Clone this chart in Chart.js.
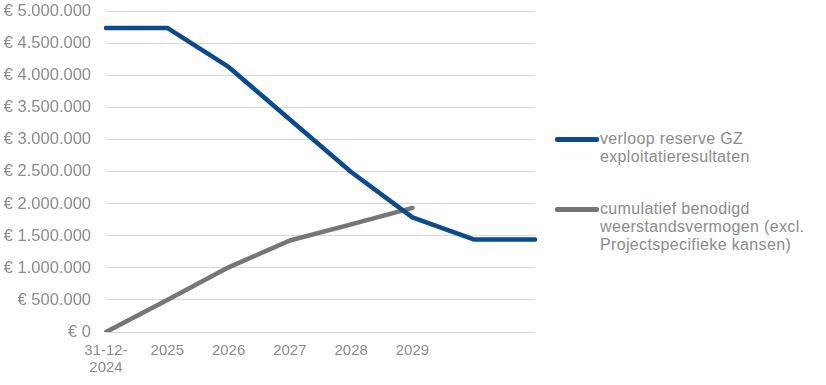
<!DOCTYPE html>
<html>
<head>
<meta charset="utf-8">
<script src="https://cdn.jsdelivr.net/npm/chart.js@4/dist/chart.umd.min.js"></script>
<style>
  body { margin: 0; background: #fff; font-family: "Liberation Sans", Arial, sans-serif; overflow: hidden; }
  #wrap { position: relative; width: 826px; height: 385px; overflow: hidden; }
  #chartBox { position: absolute; left: 0; top: -13px; width: 537px; height: 398px; }
  .legend { position: absolute; left: 555px; color: #8c8c8c; font-size: 16px; line-height: 18px; letter-spacing: 0.35px; }
  .legend .swatch { position: absolute; left: 0; width: 44px; height: 4.5px; border-radius: 2px; }
  .legend .txt { position: absolute; left: 45px; width: 240px; white-space: nowrap; }
</style>
</head>
<body>
<div id="wrap">
  <div id="chartBox"><canvas id="chart"></canvas></div>
  <div id="legend"></div>
</div>
<script>
// categories on the x axis
const categories = [['31-12-', '2024'], '2025', '2026', '2027', '2028', '2029', '', ''];

// series values (euro)
const reserveGZ = [4750000, 4750000, 4140000, 3320000, 2500000, 1790000, 1445000, 1445000];
const benodigdWeerstand = [0, 500000, 1010000, 1430000, 1680000, 1940000, null, null];

const seriesNames = [
  ['verloop reserve GZ', 'exploitatieresultaten'],
  ['cumulatief benodigd', 'weerstandsvermogen (excl.', 'Projectspecifieke kansen)']
];
const seriesColors = ['#0a4a91', '#767676'];

// y axis ticks
const yMin = 0;
const yMax = 5000000;
const yStep = 500000;

function euro(v) {
  const s = String(Math.round(v)).replace(/\B(?=(\d{3})+(?!\d))/g, '.');
  return '€ ' + s;
}

const ctx = document.getElementById('chart').getContext('2d');
new Chart(ctx, {
  type: 'line',
  data: {
    labels: categories,
    datasets: [
      { data: reserveGZ, borderColor: seriesColors[0], borderWidth: 4.5, pointRadius: 0, tension: 0, borderCapStyle: 'round', borderJoinStyle: 'round' },
      { data: benodigdWeerstand, borderColor: seriesColors[1], borderWidth: 4.5, pointRadius: 0, tension: 0, borderCapStyle: 'round', borderJoinStyle: 'round' }
    ]
  },
  options: {
    responsive: true,
    maintainAspectRatio: false,
    animation: false,
    layout: { padding: { top: 3, right: 0, left: 0, bottom: 0 } },
    plugins: { legend: { display: false }, tooltip: { enabled: false } },
    scales: {
      x: {
        offset: false,
        grid: { display: false },
        border: { display: false },
        ticks: {
          color: '#8c8c8c',
          font: { family: 'Liberation Sans', size: 15, lineHeight: 1.15 },
          padding: 2,
          maxRotation: 0,
          autoSkip: false
        },
        afterFit: (scale) => { scale.height = 53; }
      },
      y: {
        min: yMin,
        max: yMax,
        grid: { color: '#d9d9d9', lineWidth: 1, drawTicks: false },
        border: { display: false },
        ticks: {
          stepSize: yStep,
          color: '#8c8c8c',
          font: { family: 'Liberation Sans', size: 16.5 },
          padding: 15,
          callback: (v) => euro(v)
        },
        afterFit: (scale) => { scale.width = 106; }
      }
    }
  }
});

// legend on the right, wrapped as in the reference
const legendTops = [130, 200];
const legend = document.getElementById('legend');
seriesNames.forEach((lines, i) => {
  const item = document.createElement('div');
  item.className = 'legend';
  item.style.top = legendTops[i] + 'px';
  item.innerHTML = '<div class="swatch" style="top:7px;background:' + seriesColors[i] + '"></div>' +
    '<div class="txt">' + lines.join('<br>') + '</div>';
  legend.appendChild(item);
});
</script>
</body>
</html>
